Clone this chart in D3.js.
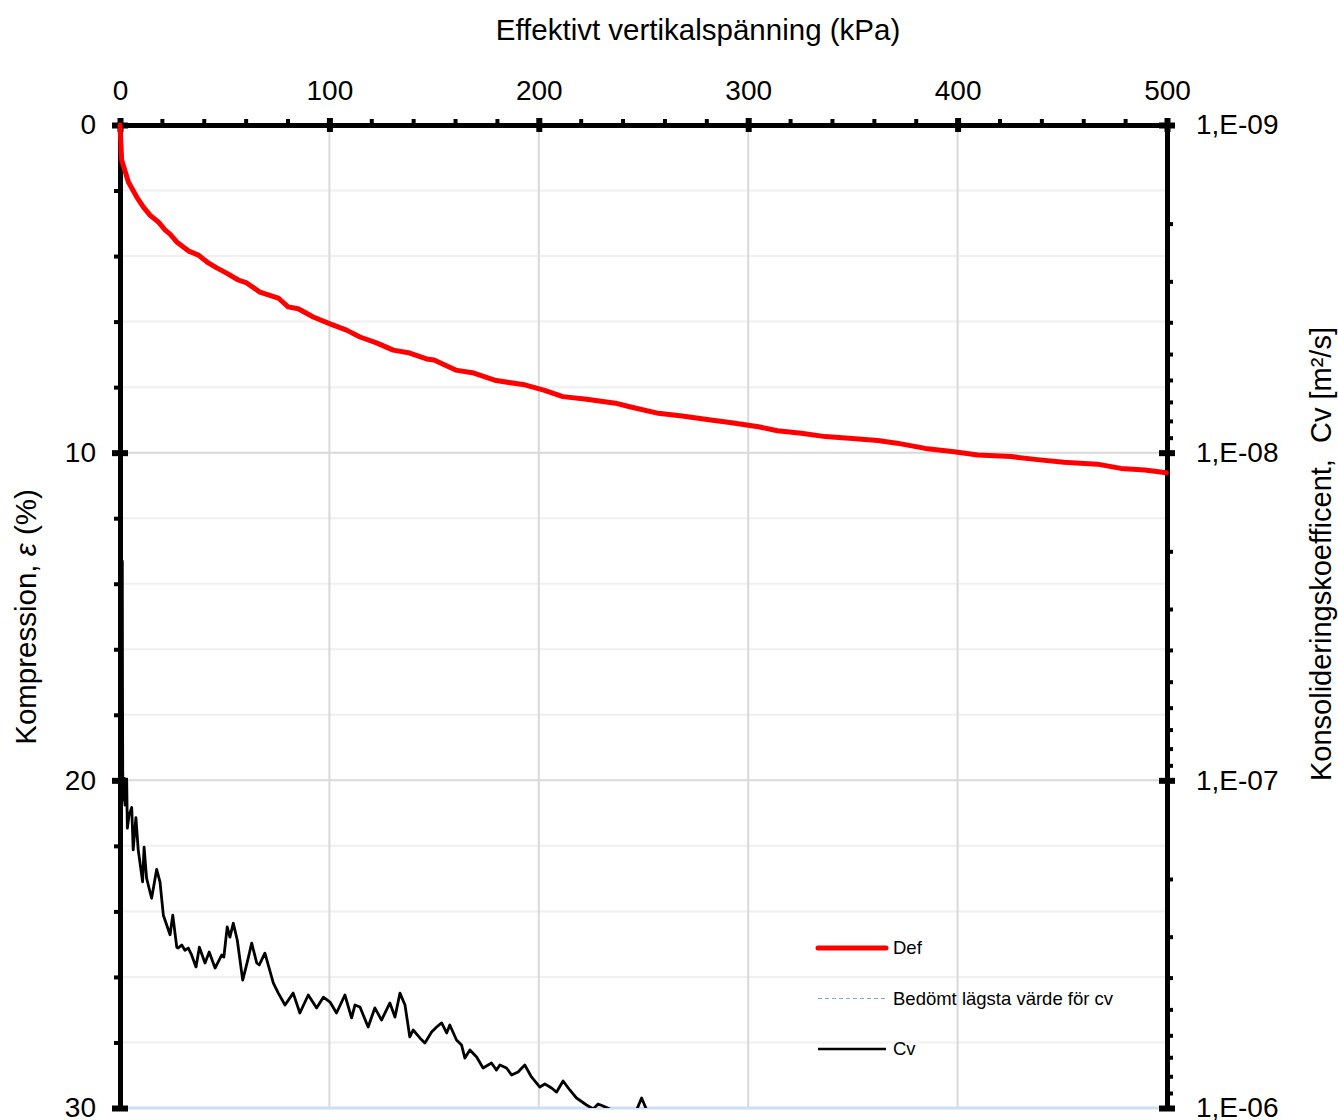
<!DOCTYPE html>
<html>
<head>
<meta charset="utf-8">
<script src="https://cdn.jsdelivr.net/npm/d3@7"></script>
<style>
    body { margin: 0; background: #fff; }
    svg text { font-family: "Liberation Sans", Arial, sans-serif; fill: #000; }
</style>
</head>
<body>
<svg id="chart" width="1338" height="1120"></svg>
<script>
// Def curve: compression (%) vs effective vertical stress (kPa)
var defStress = [0, 0.8, 4.0, 8.0, 11.1, 14.3, 18.3, 21.5, 23.9, 27.1, 32.6, 37.4, 42.2, 46.2, 50.9, 56.5,
    60.5, 66.8, 75.6, 80.3, 85.1, 92.3, 100.3, 108.2, 114.6, 122.5, 130.5, 138.4, 146.4, 150.0, 160.3,
    168.3, 179.6, 193.3, 202.4, 211.5, 222.9, 236.6, 243.4, 257.1, 268.5, 282.1, 291.3, 304.9, 314.0,
    325.4, 336.8, 348.2, 361.9, 371.0, 384.6, 398.3, 409.7, 425.6, 439.3, 450.7, 466.7, 478.0, 489.4, 499.7];
var defComp = [0, 1.07, 1.74, 2.20, 2.50, 2.75, 2.96, 3.20, 3.33, 3.57, 3.84, 3.97, 4.21, 4.36, 4.52, 4.73,
    4.82, 5.10, 5.28, 5.55, 5.61, 5.86, 6.07, 6.26, 6.47, 6.65, 6.87, 6.96, 7.14, 7.17, 7.48,
    7.56, 7.80, 7.93, 8.09, 8.29, 8.37, 8.49, 8.60, 8.80, 8.88, 9.00, 9.08, 9.21, 9.33,
    9.41, 9.51, 9.56, 9.63, 9.71, 9.87, 9.97, 10.07, 10.12, 10.22, 10.29, 10.35, 10.48, 10.53, 10.61];

// Cv curve: consolidation coefficient (m2/s) vs stress (kPa)
var cvStress = [1.1, 1.2, 1.3, 1.5, 1.6, 1.8, 2.0, 2.4, 3.2, 3.5, 4.3, 5.6, 6.3, 7.6, 8.7, 10.8, 11.5, 12.7,
    15.1, 17.5, 19.1, 20.7, 23.9, 25.2, 27.1, 27.8, 29.5, 31.0, 32.6, 34.2, 36.3, 37.9, 40.6, 42.6, 45.4,
    48.6, 49.6, 51.2, 52.5, 54.1, 56.0, 58.6, 60.8, 62.9, 65.3, 66.5, 69.2, 73.2, 75.6, 78.8, 82.7, 85.9,
    89.9, 93.9, 97.1, 100.3, 103.4, 107.4, 110.6, 112.2, 114.6, 118.5, 121.7, 124.9, 128.9, 131.3, 133.7,
    136.1, 138.4, 140.0, 143.2, 145.6, 148.8, 151.2, 153.6, 156.0, 157.5, 160.7, 163.1, 164.7, 167.1,
    170.3, 173.4, 177.4, 179.8, 181.4, 184.6, 187.0, 190.1, 193.3, 196.5, 200.5, 202.9, 206.1, 208.5,
    211.6, 214.8, 218.0, 222.8, 226.0, 228.3, 230.7, 233.9, 238.7, 243.5, 246.7, 249.1, 251.5, 255.4, 260.0];
var cvValues = [2.13e-8, 5.30e-8, 9.30e-8, 1.15e-7, 1.03e-7, 1.15e-7, 9.84e-8, 1.19e-7, 1.00e-7, 1.40e-7,
    1.28e-7, 1.21e-7, 1.63e-7, 1.30e-7, 1.63e-7, 2.04e-7, 1.60e-7, 1.99e-7, 2.29e-7, 1.87e-7, 2.04e-7,
    2.58e-7, 2.96e-7, 2.58e-7, 3.23e-7, 3.25e-7, 3.18e-7, 3.30e-7, 3.25e-7, 3.41e-7, 3.71e-7, 3.23e-7,
    3.61e-7, 3.34e-7, 3.74e-7, 3.41e-7, 3.46e-7, 2.80e-7, 3.01e-7, 2.73e-7, 3.07e-7, 4.07e-7, 3.58e-7,
    3.14e-7, 3.61e-7, 3.66e-7, 3.37e-7, 4.15e-7, 4.46e-7, 4.85e-7, 4.46e-7, 5.13e-7, 4.52e-7, 4.95e-7,
    4.59e-7, 4.75e-7, 5.13e-7, 4.52e-7, 5.31e-7, 4.85e-7, 4.92e-7, 5.66e-7, 4.95e-7, 5.39e-7, 4.78e-7,
    5.28e-7, 4.46e-7, 4.85e-7, 6.07e-7, 5.78e-7, 6.11e-7, 6.33e-7, 5.86e-7, 5.66e-7, 5.50e-7, 5.90e-7,
    5.58e-7, 6.20e-7, 6.42e-7, 7.04e-7, 6.65e-7, 6.99e-7, 7.55e-7, 7.29e-7, 7.66e-7, 7.39e-7, 7.55e-7,
    7.93e-7, 7.76e-7, 7.39e-7, 8.04e-7, 8.63e-7, 8.45e-7, 8.69e-7, 8.94e-7, 8.27e-7, 8.81e-7, 9.32e-7,
    9.79e-7, 1.007e-6, 9.72e-7, 9.86e-7, 1.007e-6, 1.058e-6, 1.043e-6, 1.014e-6, 9.32e-7, 1.014e-6,
    1.088e-6, 1.12e-6];

// estimated lowest cv
var minCvStress = [0, 500];
var minCvValues = [1e-6, 1e-6];

var xTicks = [0, 100, 200, 300, 400, 500];
var xMinorTicks = d3.range(0, 501, 20);
var leftTicks = [0, 10, 20, 30];
var leftMinorTicks = d3.range(0, 31, 2);
var rightTicks = [1e-9, 1e-8, 1e-7, 1e-6];
var legendLabels = ["Def", "Bedömt lägsta värde för cv", "Cv"];

ConsolidationChart = function (_parentElement) {
    this.parentElement = _parentElement;
    this.left = 120;
    this.right = 1167;
    this.top = 125;
    this.bottom = 1108;
    this.initVis();
}

ConsolidationChart.prototype.initVis = function () {
    var vis = this;
    vis.svg = d3.select("#" + vis.parentElement);

    vis.xScale = d3.scaleLinear().domain([0, 500]).range([vis.left, vis.right]);
    vis.yScale = d3.scaleLinear().domain([0, 30]).range([vis.top, vis.bottom]);
    vis.cvScale = d3.scaleLog().domain([1e-9, 1e-6]).range([vis.top, vis.bottom]);

    vis.rightMinorTicks = [];
    [1e-9, 1e-8, 1e-7].forEach(function (dec) {
        for (var m = 2; m <= 9; m++) vis.rightMinorTicks.push(m * dec);
    });

    vis.defData = defStress.map(function (s, i) { return { s: s, v: defComp[i] }; });
    vis.cvData = cvStress.map(function (s, i) { return { s: s, v: cvValues[i] }; });
    vis.minCvData = minCvStress.map(function (s, i) { return { s: s, v: minCvValues[i] }; });

    vis.updateVis();
}

ConsolidationChart.prototype.updateVis = function () {
    var vis = this;
    var svg = vis.svg;

    svg.append("defs").append("clipPath").attr("id", "plot-clip")
        .append("rect")
        .attr("x", vis.left).attr("y", vis.top)
        .attr("width", vis.right - vis.left).attr("height", vis.bottom - vis.top);

    // gridlines
    var grid = svg.append("g").attr("class", "grid");
    grid.selectAll(".hminor")
        .data(leftMinorTicks.filter(function (d) { return d % 10 != 0; }))
        .enter().append("line")
        .attr("x1", vis.left).attr("x2", vis.right)
        .attr("y1", function (d) { return vis.yScale(d); })
        .attr("y2", function (d) { return vis.yScale(d); })
        .attr("stroke", "#f0f0f0").attr("stroke-width", 2);
    grid.selectAll(".hmajor")
        .data([10, 20])
        .enter().append("line")
        .attr("x1", vis.left).attr("x2", vis.right)
        .attr("y1", function (d) { return vis.yScale(d); })
        .attr("y2", function (d) { return vis.yScale(d); })
        .attr("stroke", "#d9d9d9").attr("stroke-width", 2);
    grid.selectAll(".vmajor")
        .data(xTicks.slice(1, -1))
        .enter().append("line")
        .attr("y1", vis.top).attr("y2", vis.bottom)
        .attr("x1", function (d) { return vis.xScale(d); })
        .attr("x2", function (d) { return vis.xScale(d); })
        .attr("stroke", "#d9d9d9").attr("stroke-width", 2);

    // lowest cv line along the bottom
    var line = d3.line()
        .x(function (d) { return vis.xScale(d.s); })
        .y(function (d) { return vis.cvScale(d.v); });
    svg.append("path")
        .datum(vis.minCvData)
        .attr("d", line)
        .attr("fill", "none")
        .attr("stroke", "#cddff0")
        .attr("stroke-width", 3);

    function thick(g, w) {
        g.select(".domain").attr("stroke", "#000").attr("stroke-width", 5);
        g.selectAll(".tick line").attr("stroke", "#000").attr("stroke-width", w);
    }

    // top axis
    svg.append("g")
        .attr("transform", "translate(0," + vis.top + ")")
        .call(d3.axisTop(vis.xScale).tickValues(xMinorTicks).tickSize(6).tickSizeOuter(0).tickFormat(""))
        .call(function (g) { thick(g, 4); });
    svg.append("g")
        .attr("transform", "translate(0," + vis.top + ")")
        .call(d3.axisTop(vis.xScale).tickValues(xTicks).tickSize(7).tickSizeOuter(0).tickFormat(""))
        .call(function (g) { g.select(".domain").remove(); thick(g, 6); g.selectAll(".tick line").attr("y1", 7); });
    svg.append("g")
        .attr("transform", "translate(0," + vis.top + ")")
        .call(d3.axisTop(vis.xScale).tickValues(xTicks).tickSize(0).tickPadding(25))
        .call(function (g) { g.select(".domain").remove(); })
        .selectAll("text").style("font-size", "28px");

    // left axis
    svg.append("g")
        .attr("transform", "translate(" + vis.left + ",0)")
        .call(d3.axisLeft(vis.yScale).tickValues(leftMinorTicks).tickSize(6).tickSizeOuter(0).tickFormat(""))
        .call(function (g) { thick(g, 4); });
    svg.append("g")
        .attr("transform", "translate(" + vis.left + ",0)")
        .call(d3.axisLeft(vis.yScale).tickValues(leftTicks).tickSize(8).tickSizeOuter(0).tickFormat(""))
        .call(function (g) { g.select(".domain").remove(); thick(g, 6); g.selectAll(".tick line").attr("x1", 8); });
    svg.append("g")
        .attr("transform", "translate(" + vis.left + ",0)")
        .call(d3.axisLeft(vis.yScale).tickValues(leftTicks).tickSize(0).tickPadding(24))
        .call(function (g) { g.select(".domain").remove(); })
        .selectAll("text").style("font-size", "28px");

    // right axis (log)
    svg.append("g")
        .attr("transform", "translate(" + vis.right + ",0)")
        .call(d3.axisRight(vis.cvScale).tickValues(vis.rightMinorTicks).tickSize(6).tickSizeOuter(0).tickFormat(""))
        .call(function (g) { thick(g, 4); });
    svg.append("g")
        .attr("transform", "translate(" + vis.right + ",0)")
        .call(d3.axisRight(vis.cvScale).tickValues(rightTicks).tickSize(8).tickSizeOuter(0).tickFormat(""))
        .call(function (g) { g.select(".domain").remove(); thick(g, 6); g.selectAll(".tick line").attr("x1", -8); });
    svg.append("g")
        .attr("transform", "translate(" + vis.right + ",0)")
        .call(d3.axisRight(vis.cvScale).tickValues(rightTicks).tickSize(0).tickPadding(29)
            .tickFormat(function (d) {
                var e = -Math.round(Math.log10(d));
                return "1,E-" + (e < 10 ? "0" + e : e);
            }))
        .call(function (g) { g.select(".domain").remove(); })
        .selectAll("text").style("font-size", "28px");

    // axis titles
    svg.append("text")
        .attr("x", 698).attr("y", 40)
        .attr("text-anchor", "middle").style("font-size", "29.5px")
        .text("Effektivt vertikalspänning (kPa)");

    var lt = svg.append("text")
        .attr("transform", "translate(36,617) rotate(-90)")
        .attr("text-anchor", "middle").style("font-size", "29.5px");
    lt.append("tspan").text("Kompression, ");
    lt.append("tspan").style("font-style", "italic").text("ε");
    lt.append("tspan").text(" (%)");

    svg.append("text")
        .attr("transform", "translate(1331,554) rotate(-90)")
        .attr("text-anchor", "middle").style("font-size", "29px")
        .style("white-space", "pre")
        .text("Konsolideringskoefficent,  Cv [m²/s]");

    // series
    svg.append("path")
        .datum(vis.cvData)
        .attr("clip-path", "url(#plot-clip)")
        .attr("d", line)
        .attr("fill", "none")
        .attr("stroke", "#000")
        .attr("stroke-width", 2.8)
        .attr("stroke-linejoin", "round");

    var defLine = d3.line()
        .x(function (d) { return vis.xScale(d.s); })
        .y(function (d) { return vis.yScale(d.v); });
    svg.append("path")
        .datum(vis.defData)
        .attr("d", defLine)
        .attr("fill", "none")
        .attr("stroke", "#ff0000")
        .attr("stroke-width", 5)
        .attr("stroke-linejoin", "round")
        .attr("stroke-linecap", "round");

    // legend
    var legendStyles = [
        { color: "#ff0000", width: 5, dash: null },
        { color: "#7ea6d6", width: 1.2, dash: "4,3" },
        { color: "#000", width: 2.5, dash: null }
    ];
    var legend = svg.append("g").attr("class", "legend");
    var items = legend.selectAll("g")
        .data(legendLabels)
        .enter().append("g")
        .attr("transform", function (d, i) { return "translate(818," + (948 + i * 50.5) + ")"; });
    items.append("line")
        .attr("x1", 0).attr("x2", 68)
        .attr("stroke", function (d, i) { return legendStyles[i].color; })
        .attr("stroke-width", function (d, i) { return legendStyles[i].width; })
        .attr("stroke-dasharray", function (d, i) { return legendStyles[i].dash; })
        .attr("stroke-linecap", function (d, i) { return i == 0 ? "round" : "butt"; });
    items.append("text")
        .attr("x", 75).attr("dy", "0.35em")
        .style("font-size", "18.5px")
        .text(function (d) { return d; });
}

new ConsolidationChart("chart");
</script>
</body>
</html>
